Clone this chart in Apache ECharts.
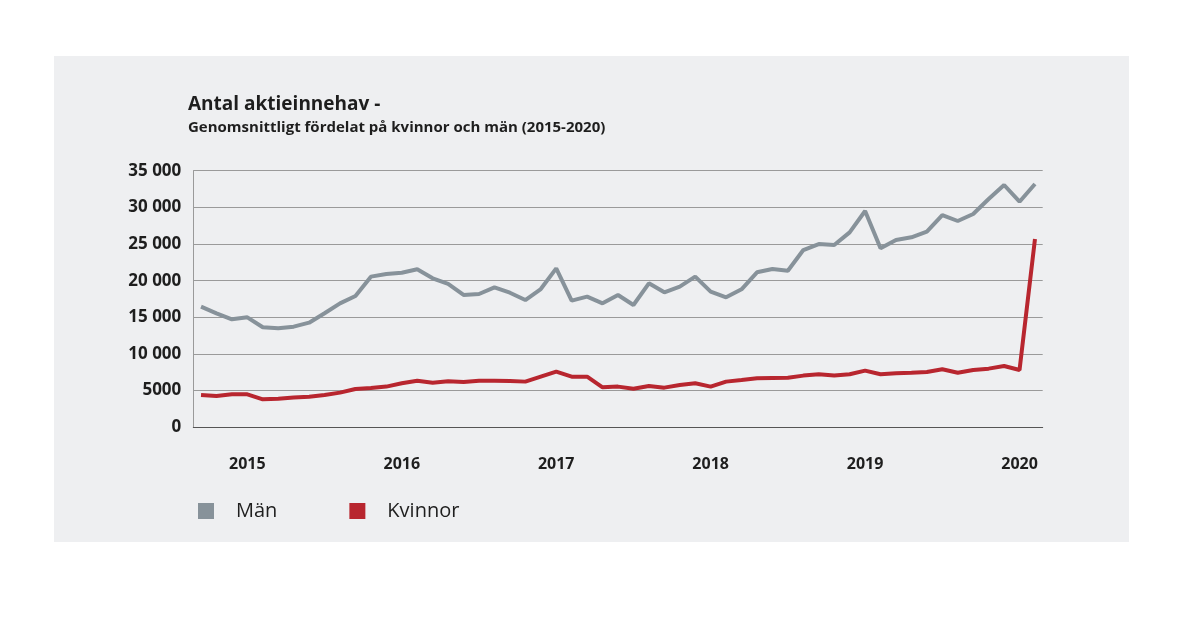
<!DOCTYPE html>
<html>
<head>
<meta charset="utf-8">
<script src="https://cdn.jsdelivr.net/npm/echarts@6/dist/echarts.min.js"></script>
<style>
html,body{margin:0;padding:0;background:#ffffff;}
#chart{width:1200px;height:626px;}
</style>
</head>
<body>
<div id="chart"></div>
<script>
// Tick labels
const yearLabels = ['2015', '2016', '2017', '2018', '2019', '2020'];
const yearIndex = [3, 13, 23, 33, 43, 53];
const yTickLabels = ['0', '5000', '10 000', '15 000', '20 000', '25 000', '30 000', '35 000'];

const man = [16450,15550,14730,15000,13640,13500,13730,14270,15550,16910,
             17910,20550,20910,21090,21550,20320,19550,18050,18180,19090,
             18360,17360,18860,21680,17270,17820,16910,18050,16680,19640,
             18410,19180,20550,18500,17730,18820,21140,21590,21360,24180,
             25000,24860,26590,29500,24410,25550,25910,26680,28950,28140,
             29090,31140,33050,30770,33180];
const kvinnor = [4410,4270,4500,4500,3820,3910,4050,4180,4410,4730,
                 5230,5360,5550,6000,6360,6090,6270,6180,6360,6360,
                 6320,6230,6910,7590,6910,6910,5450,5550,5270,5640,
                 5410,5770,6000,5550,6230,6450,6680,6730,6770,7050,
                 7230,7050,7230,7730,7230,7360,7450,7550,7910,7450,
                 7820,8000,8360,7820,25680];

// Categories: one per observation, year shown at its index
const categories = man.map((_, i) => {
  const k = yearIndex.indexOf(i);
  return k >= 0 ? yearLabels[k] : '';
});

const chart = echarts.init(document.getElementById('chart'), null, {renderer: 'canvas'});
const FONT = '"Open Sans", Lato, sans-serif';
chart.setOption({
  backgroundColor: '#ffffff',
  animation: false,
  graphic: [{
    type: 'rect', z: -10, silent: true,
    shape: {x: 54, y: 56, width: 1075, height: 486},
    style: {fill: '#eeeff1'}
  }],
  title: {
    text: 'Antal aktieinnehav -',
    subtext: 'Genomsnittligt fördelat på kvinnor och män (2015-2020)',
    left: 183, top: 90, itemGap: 6,
    textStyle: {fontFamily: FONT, fontSize: 19, fontWeight: 'bold', color: '#1e1e1e'},
    subtextStyle: {fontFamily: FONT, fontSize: 15, fontWeight: 'bold', color: '#1e1e1e'}
  },
  legend: {
    left: 193, top: 496,
    icon: 'rect', itemWidth: 16, itemHeight: 16, itemGap: 72,
    textStyle: {fontFamily: FONT, fontSize: 20, color: '#1e1e1e', padding: [0, 0, 0, 17]},
    data: ['Män', 'Kvinnor']
  },
  grid: {left: 193.3, right: 157.3, top: 170.7, bottom: 198.7, containLabel: false},
  xAxis: {
    type: 'category', data: categories, boundaryGap: true,
    axisLine: {show: true, lineStyle: {color: '#555555', width: 1}},
    axisTick: {show: false},
    axisLabel: {interval: 0, margin: 29, fontFamily: FONT, fontSize: 16, fontWeight: 'bold', color: '#1e1e1e'},
    splitLine: {show: false}
  },
  yAxis: {
    type: 'value', min: 0, max: 35000, interval: 5000,
    axisLine: {show: true, lineStyle: {color: '#9a9a9a', width: 1}},
    axisTick: {show: false},
    axisLabel: {
      margin: 12, fontFamily: FONT, fontSize: 17, fontWeight: 'bold', color: '#1e1e1e',
      formatter: v => yTickLabels[Math.round(v / 5000)]
    },
    splitLine: {show: true, lineStyle: {color: '#9a9a9a', width: 1}}
  },
  series: [
    {name: 'Män', type: 'line', data: man, symbol: 'none', color: '#87929a',
     lineStyle: {width: 4, color: '#87929a'}},
    {name: 'Kvinnor', type: 'line', data: kvinnor, symbol: 'none', color: '#b8262f',
     lineStyle: {width: 4, color: '#b8262f'}}
  ]
});
</script>
</body>
</html>
